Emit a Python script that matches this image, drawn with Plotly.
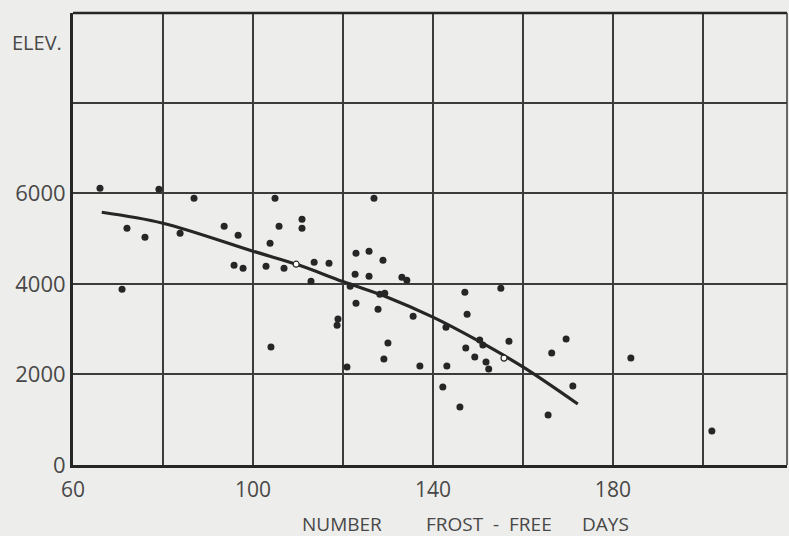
import plotly.graph_objects as go

# Observed stations: frost-free days vs elevation (ft)
frost_days = [66.0, 70.9, 72.0, 76.0, 79.1, 83.8, 86.9, 93.6, 96.7, 95.8, 97.8,
              103.8, 102.9, 106.9, 104.9, 105.8, 110.9, 110.9, 113.6, 116.9, 112.9,
              126.9, 122.9, 125.8, 128.9, 122.7, 125.8, 133.1, 134.2, 121.6, 128.2,
              129.3, 122.9, 127.8, 135.6, 118.9, 118.7, 147.1, 155.1, 147.6, 142.9,
              150.4, 151.1, 156.9, 147.3, 149.3, 151.8, 152.4, 143.1, 142.2, 146.0,
              104.0, 120.9, 130.0, 129.1, 137.1, 166.4, 169.6, 171.1, 165.6, 184.0,
              202.0]
elevation = [6110, 3883, 5228, 5030, 6089, 5118, 5890, 5272, 5074, 4412, 4346,
             4897, 4390, 4346, 5890, 5272, 5427, 5228, 4478, 4456, 4059,
             5890, 4677, 4721, 4522, 4213, 4169, 4147, 4081, 3949, 3772,
             3794, 3574, 3441, 3287, 3221, 3088, 3816, 3905, 3331, 3044,
             2758, 2647, 2735, 2581, 2382, 2272, 2118, 2184, 1721, 1279,
             2603, 2162, 2691, 2338, 2184, 2471, 2780, 1743, 1103, 2360,
             750]

# Fitted curve
curve_days = [66.4, 80.0, 100.0, 110.0, 120.0, 130.0, 140.0, 150.0, 160.0, 172.2]
curve_elev = [5581, 5339, 4721, 4420, 4050, 3700, 3265, 2745, 2165, 1346]

# Open circles on the curve
mean_days = [109.6, 155.8]
mean_elev = [4434, 2360]

x_tick_vals = [60, 100, 140, 180]
y_tick_vals = [0, 2000, 4000, 6000, 8000]
y_tick_text = ["0", "2000", "4000", "6000", ""]

ink = "#262626"
grid = "#3c3c3c"
label_col = "#484848"
paper = "#ededeb"
font_family = "Open Sans, Liberation Sans, sans-serif"

fig = go.Figure()
fig.add_trace(go.Scatter(x=curve_days, y=curve_elev, mode="lines",
                         line=dict(color=ink, width=3.2, shape="spline", smoothing=1.0),
                         hoverinfo="skip", showlegend=False))
fig.add_trace(go.Scatter(x=frost_days, y=elevation, mode="markers",
                         marker=dict(color=ink, size=7, line=dict(width=0)),
                         showlegend=False))
fig.add_trace(go.Scatter(x=mean_days, y=mean_elev, mode="markers",
                         marker=dict(color="white", size=6, line=dict(color=ink, width=1.2)),
                         showlegend=False))

title_y = -0.13
title_font = dict(size=19, color=label_col, family=font_family)

fig.update_layout(
    width=789, height=536,
    margin=dict(l=73, r=2, t=13, b=71),
    paper_bgcolor=paper, plot_bgcolor=paper,
    font=dict(family=font_family, color=label_col, size=22),
    showlegend=False,
    xaxis=dict(range=[60, 218.7], tickvals=x_tick_vals, showgrid=True,
               gridcolor=grid, gridwidth=1.5,
               minor=dict(dtick=20, tick0=60, showgrid=True, gridcolor=grid, gridwidth=1.5),
               showline=True, linecolor=ink, linewidth=3, mirror=False,
               ticks="outside", ticklen=4, tickcolor="rgba(0,0,0,0)",
               tickfont=dict(size=21, color=label_col), zeroline=False),
    yaxis=dict(range=[0, 9980], tickvals=y_tick_vals, ticktext=y_tick_text,
               showgrid=True, gridcolor=grid, gridwidth=1.5,
               showline=True, linecolor=ink, linewidth=3, mirror=False,
               ticks="", tickfont=dict(size=22, color=label_col), zeroline=False),
    shapes=[
        dict(type="line", xref="paper", yref="paper", x0=0, x1=1, y0=1, y1=1,
             line=dict(color=ink, width=2.5)),
        dict(type="line", xref="paper", yref="paper", x0=1, x1=1, y0=0, y1=1,
             line=dict(color=grid, width=1.5)),
    ],
    annotations=[
        dict(text="ELEV.", xref="paper", yref="paper", x=-0.051, y=0.934,
             showarrow=False, xanchor="center", yanchor="middle",
             font=dict(size=20, color=label_col, family=font_family)),
        dict(text="NUMBER", xref="paper", yref="paper", x=(342 - 73) / 714, y=title_y,
             showarrow=False, xanchor="center", yanchor="middle", borderpad=0,
             font=title_font),
        dict(text="FROST&nbsp;&nbsp;-&nbsp;&nbsp;FREE", xref="paper", yref="paper",
             x=(489 - 73) / 714, y=title_y,
             showarrow=False, xanchor="center", yanchor="middle", borderpad=0,
             font=title_font),
        dict(text="DAYS", xref="paper", yref="paper", x=(605 - 73) / 714, y=title_y,
             showarrow=False, xanchor="center", yanchor="middle", borderpad=0,
             font=title_font),
    ],
)

fig.write_html("out.html",
               config={"displayModeBar": False},
               post_script="document.body.style.margin='0';"
                           "document.body.style.background='#ededeb';")
